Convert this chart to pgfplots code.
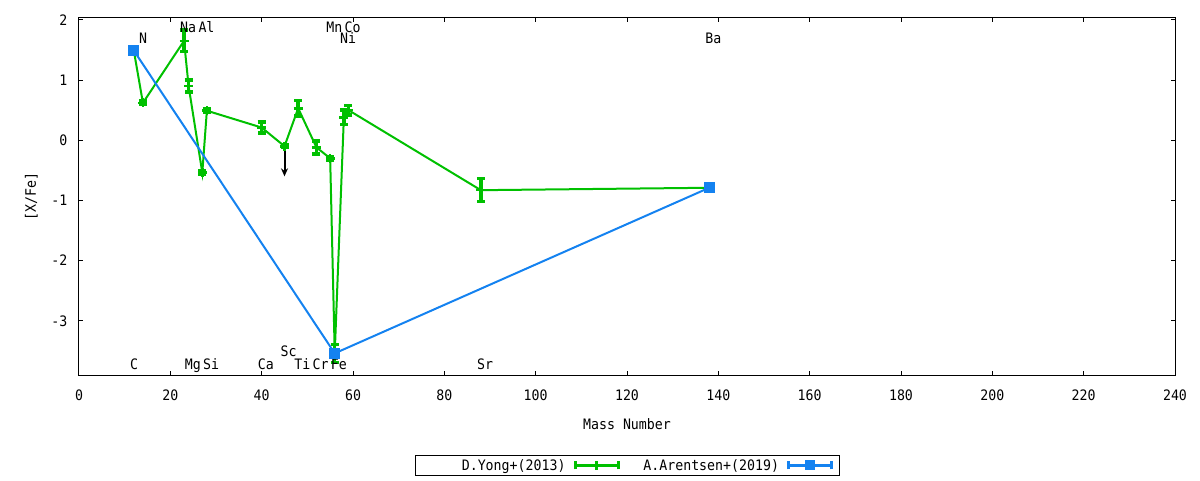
\documentclass[border=0pt]{standalone}
\usepackage{fontspec}
\setmainfont[FakeStretch=0.92]{DejaVu Sans Mono}
\usepackage{pgfplots}
\pgfplotsset{compat=1.18}
\usetikzlibrary{arrows.meta}
\definecolor{ygreen}{RGB}{0,192,0}
\definecolor{ablue}{RGB}{20,130,240}
\pgfplotstableread{
x y e
12 1.49 0.03
14 0.62 0.03
23 1.65 0.18
24 0.90 0.10
27 -0.54 0.03
28 0.49 0.03
40 0.21 0.09
45 -0.10 0.02
48 0.53 0.13
52 -0.12 0.11
55 -0.30 0.03
56 -3.54 0.15
58 0.38 0.12
59 0.50 0.08
88 -0.83 0.19
138 -0.79 0.03
}\yongdata
\pgfplotstableread{
x y
12 1.49
56 -3.54
138 -0.79
}\arentsendata
\begin{document}
\fontsize{14.4pt}{17pt}\selectfont
\begin{tikzpicture}[font=\fontsize{14.4pt}{17pt}\selectfont,
  lab/.style={anchor=west, inner sep=0pt, xshift=-4pt, text height=11pt, text depth=3pt}]
\useasboundingbox (0,0) rectangle (1200pt,480pt);
\begin{axis}[
  at={(79pt,105pt)}, anchor=south west,
  scale only axis, width=1096pt, height=357.6pt,
  xmin=0, xmax=240, ymin=-3.9, ymax=2.04,
  axis line style={line width=1pt},
  xtick={0,20,...,240},
  xticklabels={0,20,40,60,80,100,120,140,160,180,200,220,240},
  ytick={-3,-2,-1,0,1,2},
  yticklabels={-3,-2,-1,0,1,2},
  minor tick num=0,
  tick align=inside, tick pos=both,
  major tick length=4.5pt,
  every tick/.style={black, line width=1pt},
  xticklabel style={anchor=north, inner sep=0pt, yshift=-14.3pt},
  yticklabel style={anchor=east, inner sep=0pt, xshift=-11.5pt},
  xlabel={Mass Number}, ylabel={[X/Fe]},
  xlabel style={at={(axis description cs:0.5,0)}, anchor=center, inner sep=0pt, yshift=-49.5pt},
  ylabel style={at={(axis description cs:0,0.5)}, anchor=center, inner sep=0pt, rotate=0, yshift=47.7pt},
  legend columns=2,
  legend plot pos=right,
  legend style={at={(0.5,-0.2525)}, anchor=center, draw=black, line width=1pt,
    inner xsep=5.5pt, inner ysep=4.15pt, column sep=8pt,
    nodes={inner sep=0pt, text height=11pt, text depth=0pt}},
  clip=false,
]
% upper limit arrow for Sc
\addplot[black, line width=2pt, -{Stealth[length=8pt,width=7pt]}, forget plot]
  coordinates {(45,-0.14) (45,-0.6)};

\addplot[ygreen, line width=2pt, mark=+, mark size=4.5pt,
  mark options={line width=2.6pt, solid},
  legend image code/.code={
    \draw[ygreen, line width=3.5pt] (0pt,0pt) -- (43pt,0pt);
    \draw[ygreen, line width=3pt] (0pt,-4pt) -- (0pt,4pt);
    \draw[ygreen, line width=3pt] (43pt,-4pt) -- (43pt,4pt);
    \draw[ygreen, line width=3pt] (21.5pt,-4.5pt) -- (21.5pt,4.5pt);
  },
  error bars/.cd, y dir=both, y explicit,
  error bar style={line width=3.5pt},
  error mark options={rotate=90, mark size=4pt, line width=3.5pt}]
  table[x=x, y=y, y error=e] {\yongdata};
\addlegendentry{\makebox[145pt][r]{D.Yong+(2013)}}

\addplot[ablue, line width=2pt, mark=square*, mark size=4.5pt,
  mark options={solid},
  legend image code/.code={
    \draw[ablue, line width=3.5pt] (0pt,0pt) -- (43pt,0pt);
    \draw[ablue, line width=3pt] (0pt,-4pt) -- (0pt,4pt);
    \draw[ablue, line width=3pt] (43pt,-4pt) -- (43pt,4pt);
    \fill[ablue] (17.5pt,-4pt) rectangle (25.5pt,4pt);
  }]
  table[x=x, y=y] {\arentsendata};
\addlegendentry{\makebox[151pt][r]{A.Arentsen+(2019)}}

% element labels
\node[lab] at (axis cs:23,1.85) {Na};
\node[lab] at (axis cs:27,1.85) {Al};
\node[lab] at (axis cs:55,1.85) {Mn};
\node[lab] at (axis cs:59,1.85) {Co};
\node[lab] at (axis cs:14,1.67) {N};
\node[lab] at (axis cs:58,1.67) {Ni};
\node[lab] at (axis cs:138,1.67) {Ba};
\node[lab] at (axis cs:12,-3.74) {C};
\node[lab] at (axis cs:24,-3.74) {Mg};
\node[lab] at (axis cs:28,-3.74) {Si};
\node[lab] at (axis cs:40,-3.74) {Ca};
\node[lab] at (axis cs:48,-3.74) {Ti};
\node[lab] at (axis cs:52,-3.74) {Cr};
\node[lab] at (axis cs:56,-3.74) {Fe};
\node[lab] at (axis cs:88,-3.74) {Sr};
\node[lab] at (axis cs:45,-3.52) {Sc};
\end{axis}
\end{tikzpicture}
\end{document}
